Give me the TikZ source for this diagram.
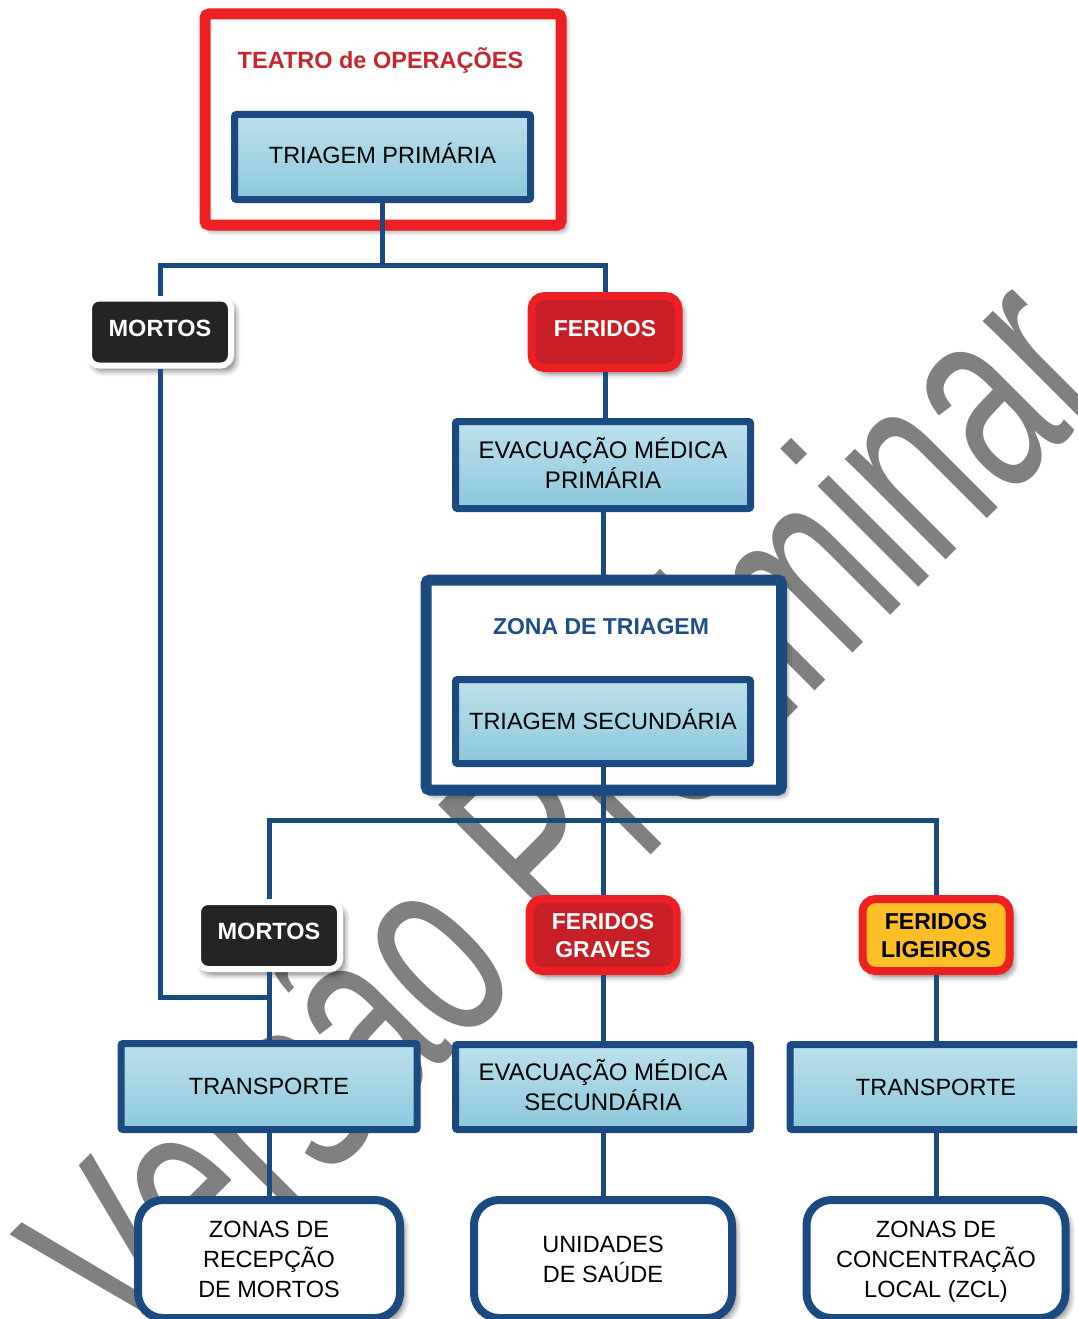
\documentclass[tikz,border=0pt]{standalone}
\usepackage{fontspec}
\setmainfont{Liberation Sans}
\usetikzlibrary{shadows.blur}

\definecolor{navy}{RGB}{26,74,128}
\definecolor{zonablue}{RGB}{31,78,135}
\definecolor{skytop}{RGB}{188,224,236}
\definecolor{skybot}{RGB}{140,200,221}
\definecolor{alarm}{RGB}{237,32,36}
\definecolor{alarmdark}{RGB}{200,30,38}
\definecolor{titlered}{RGB}{198,38,44}
\definecolor{amber}{RGB}{253,190,38}
\definecolor{ink}{RGB}{36,36,36}
\definecolor{stamp}{RGB}{128,128,128}

\tikzset{
  wire/.style={draw=navy, line width=5pt},
  lbl/.style={inner sep=0pt, outer sep=0pt, align=center,
    font=\fontsize{23.5}{30}\selectfont, text height=16.8pt, text depth=0pt},
  % multi-line text: the box baseline is the last line
  lbltwo/.style={text height=46.8pt, text depth=0pt},
  lblthree/.style={text height=76.8pt, text depth=0pt},
  softshadow/.style={blur shadow={shadow xshift=4pt, shadow yshift=-5pt,
    shadow blur radius=6pt, shadow blur steps=8, shadow opacity=55}},
  skybox/.style={lbl, draw=navy, line width=7pt, outer sep=3.5pt,
    rounded corners=2pt, top color=skytop, bottom color=skybot},
  redframe/.style={draw=alarm, line width=11pt, outer sep=5.5pt,
    rounded corners=4pt, fill=white, softshadow, inner sep=0pt},
  zoneframe/.style={draw=navy, line width=11pt, outer sep=5.5pt,
    rounded corners=4pt, fill=white, softshadow, inner sep=0pt},
  deadbox/.style={lbl, font=\bfseries\fontsize{23.5}{28}\selectfont,
    text depth=8pt, text=white, fill=ink, draw=white, line width=6pt,
    outer sep=3pt, rounded corners=10pt, softshadow,
    minimum width=142pt, minimum height=67pt},
  alertbox/.style={lbl, font=\bfseries\fontsize{23}{28}\selectfont,
    text height=16.5pt, text depth=8pt, text=white, fill=alarmdark,
    draw=alarm, line width=8pt, outer sep=4pt, rounded corners=13pt,
    softshadow, minimum width=147pt, minimum height=72pt},
  alerttwo/.style={text height=44.5pt, text depth=0pt},
  endbox/.style={lbl, fill=white, draw=navy, line width=8pt, outer sep=4pt,
    rounded corners=25pt, softshadow, minimum height=118pt},
  caption/.style={lbl, font=\bfseries\fontsize{23.5}{28}\selectfont},
  stamptxt/.style={inner sep=0pt, outer sep=0pt, anchor=base west,
    rotate=45, text=stamp, font=\fontsize{175}{175}\selectfont},
}

\begin{document}
\begin{tikzpicture}[x=1pt,y=-1pt]
\useasboundingbox (0,0) rectangle (1077,1319);
\clip (0,0) rectangle (1077,1319);

% watermark, lying under everything else
\node[stamptxt] (wm) at (140,1366) {\scalebox{1}[1.54]{Versão Preliminar}};

% the two enclosing frames
\node[redframe, minimum width=356pt, minimum height=211pt] (teatro) at (383,119.5) {};
\node[zoneframe, minimum width=355.5pt, minimum height=210pt] (zona) at (603.75,685) {};
\node[caption, text=titlered] (teatrotitle) at (380.5,60) {TEATRO de OPERAÇÕES};
\node[caption, text=zonablue, font=\bfseries\fontsize{23}{28}\selectfont,
      text height=16.5pt] (zonatitle) at (601,626) {ZONA DE TRIAGEM};

% boxes
\node[skybox, text depth=4pt, minimum width=296pt, minimum height=85pt] (tprim) at (382.5,157) {TRIAGEM PRIMÁRIA};
\node[deadbox] (mortos1) at (160,332) {MORTOS};
\node[alertbox] (feridos1) at (605,332) {FERIDOS};
\node[skybox, font=\fontsize{24}{30}\selectfont, text height=47.2pt,
      minimum width=295pt, minimum height=87pt] (evac1) at (603,465) {EVACUAÇÃO MÉDICA\\PRIMÁRIA};
\node[skybox, minimum width=295pt, minimum height=84pt] (tsec) at (603,721.5) {TRIAGEM SECUNDÁRIA};

\node[deadbox] (mortos2) at (269,935.5) {MORTOS};
\node[alertbox, alerttwo] (fgr) at (603,935) {FERIDOS\\GRAVES};
\node[alertbox, alerttwo, fill=amber, text=black] (flig) at (936,935) {FERIDOS\\LIGEIROS};

\node[skybox, minimum width=296pt, minimum height=86pt] (trans1) at (269,1086.5) {TRANSPORTE};
\node[skybox, font=\fontsize{24}{30}\selectfont, text height=47.2pt,
      minimum width=295pt, minimum height=85pt] (evac2) at (603,1087) {EVACUAÇÃO MÉDICA\\SECUNDÁRIA};
\node[skybox, minimum width=292pt, minimum height=85pt] (trans2) at (936,1087) {TRANSPORTE};

\node[endbox, lblthree, minimum width=262pt] (zrm) at (269,1259) {ZONAS DE\\RECEPÇÃO\\DE MORTOS};
\node[endbox, lbltwo, minimum width=258pt] (uni) at (603,1259) {UNIDADES\\DE SAÚDE};
\node[endbox, lblthree, minimum width=259pt] (zcl) at (936,1259) {ZONAS DE\\CONCENTRAÇÃO\\LOCAL (ZCL)};

% branching levels
\coordinate (bar1) at (0,265);
\coordinate (bar2) at (0,820.5);
\coordinate (bar3) at (0,997);

% connectors
\draw[wire] (tprim.south) -- (tprim.south |- bar1);
\draw[wire] (mortos1.north) |- (bar1 -| feridos1.north) -- (feridos1.north);
\draw[wire] (mortos1.south) |- (bar3 -| mortos2.south);
\draw[wire] (feridos1.south) -- (evac1.north -| feridos1.south);
\draw[wire] (evac1.south) -- (zona.north -| evac1.south);
\draw[wire] (tsec.south) -- (fgr.north);
\draw[wire] (mortos2.north) |- (bar2 -| flig.north) -- (flig.north);
\draw[wire] (mortos2.south) -- (trans1.north);
\draw[wire] (fgr.south) -- (evac2.north);
\draw[wire] (flig.south) -- (trans2.north);
\draw[wire] (trans1.south) -- (zrm.north);
\draw[wire] (evac2.south) -- (uni.north);
\draw[wire] (trans2.south) -- (zcl.north);
\end{tikzpicture}
\end{document}
